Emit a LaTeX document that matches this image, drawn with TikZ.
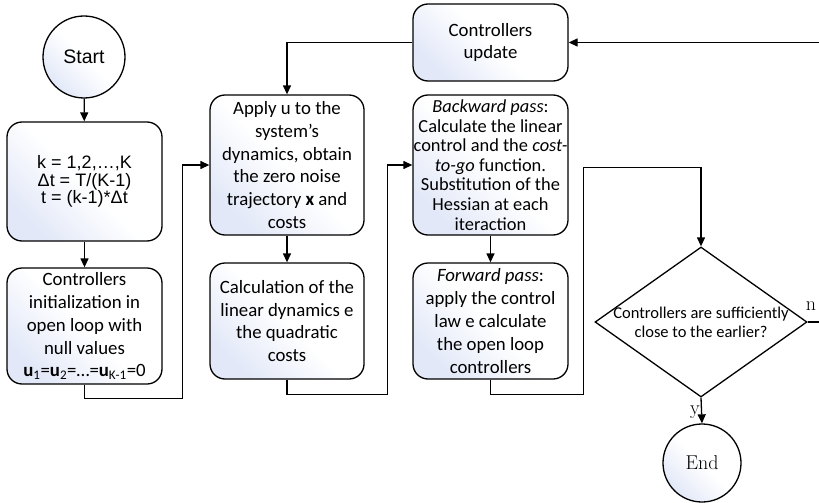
\documentclass[tikz,border=0pt]{standalone}
\usepackage{fontspec}
\newfontfamily\carl{Carlito}
\newfontfamily\arialf{Liberation Sans}
\usetikzlibrary{arrows.meta,shapes.geometric}

\definecolor{shadeblue}{RGB}{226,232,248}

% the picture runs with y pointing down, so the shading's bottom colour lands at the top
\tikzset{
  boxfill/.style={top color=white, bottom color=shadeblue, middle color=white,
    shading angle=-45},
  procbox/.style={draw, line width=1.3pt, rounded corners=15pt, boxfill,
    align=center, inner sep=0pt,
    font=\carl\fontsize{18.8}{22.8}\selectfont},
  termcirc/.style={draw, line width=1.3pt, circle, boxfill, inner sep=0pt},
  conn/.style={line width=1.3pt, draw=black},
  arr/.style={conn, -{Triangle[length=9pt,width=8pt]}},
  flaglabel/.style={font=\fontsize{20}{20}\selectfont, inner sep=1pt}
}

\begin{document}
\begin{tikzpicture}[x=1pt, y=-1pt]
\useasboundingbox (0,0) rectangle (819,503);

% terminals
\node[termcirc, minimum size=82pt, font=\arialf\fontsize{19.5}{19.5}\selectfont]
  (start) at (84,57) {Start};
\node[termcirc, minimum size=78pt, font=\fontsize{20}{20}\selectfont]
  (end) at (702,463) {End};

% first column
\node[procbox, minimum width=155pt, minimum height=119pt,
      font=\arialf\fontsize{18}{17.8}\selectfont]
  (kbox) at (84.5,181.5) {k = 1,2,…,K\\Δt = T/(K-1)\\t = (k-1)*Δt};
\node[procbox, minimum width=155pt, minimum height=116pt]
  (init) at (84.5,326) {Controllers\\initialization in\\open loop with\\null values\\
  \textbf{u}\textsubscript{1}=\textbf{u}\textsubscript{2}=…=\textbf{u}\textsubscript{K-1}=0};

% second column
\node[procbox, minimum width=154pt, minimum height=140pt]
  (apply) at (287,165) {Apply u to the\\system’s\\dynamics, obtain\\the zero noise\\
  trajectory \textbf{x} and\\costs};
\node[procbox, minimum width=154pt, minimum height=116pt]
  (calc) at (287,321) {Calculation of the\\linear dynamics e\\the quadratic\\costs};

% third column
\node[procbox, minimum width=155pt, minimum height=77pt]
  (update) at (490.5,42.5) {Controllers\\update};
\node[procbox, minimum width=155pt, minimum height=140pt,
      font=\carl\fontsize{18.4}{19.6}\selectfont]
  (back) at (490.5,165) {\textit{Backward pass}:\\Calculate the linear\\
  control and the \textit{cost-}\\\textit{to-go} function.\\Substitution of the\\
  Hessian at each\\iteraction};
\node[procbox, minimum width=155pt, minimum height=116pt]
  (fwd) at (490.5,321) {\textit{Forward pass}:\\apply the control\\law e calculate\\
  the open loop\\controllers};

% decision
\node[diamond, draw, line width=1.3pt, minimum width=212pt, minimum height=150pt,
      inner sep=0pt] (dia) at (701,322) {};
\node[align=center, inner sep=0pt, font=\carl\fontsize{16.5}{19}\selectfont]
  (diatext) at (dia.center) {Controllers are sufficiently\\close to the earlier?};

% connectors
\draw[arr] (start) -- (kbox);
\draw[arr] (kbox) -- (init);
\draw[arr] (init.south) -- ++(0,14) -| ([xshift=-27pt]apply.west) -- (apply.west);
\draw[arr] (apply) -- (calc);
\draw[arr] (calc.south) -- ++(0,15) -| ([xshift=-25pt]back.west) -- (back.west);
\draw[arr] (back) -- (fwd);
\draw[arr] (fwd.south) -- ++(0,15) -| ([xshift=15pt,yshift=68pt]back.south east)
  -| (dia.north);
\draw[arr] (dia.south) -- node[flaglabel, left, pos=0.55] (ylab) {y} (end.north);
\draw[arr] (update.west) -| (apply.north);
\begin{scope}
  \clip (0,0) rectangle (819,503);
  \draw[arr] (dia.east) -- ++(25pt,0) coordinate (loopcorner) |- (update.east);
\end{scope}
\node[flaglabel] (nlab) at (811,306) {n};
\end{tikzpicture}
\end{document}
